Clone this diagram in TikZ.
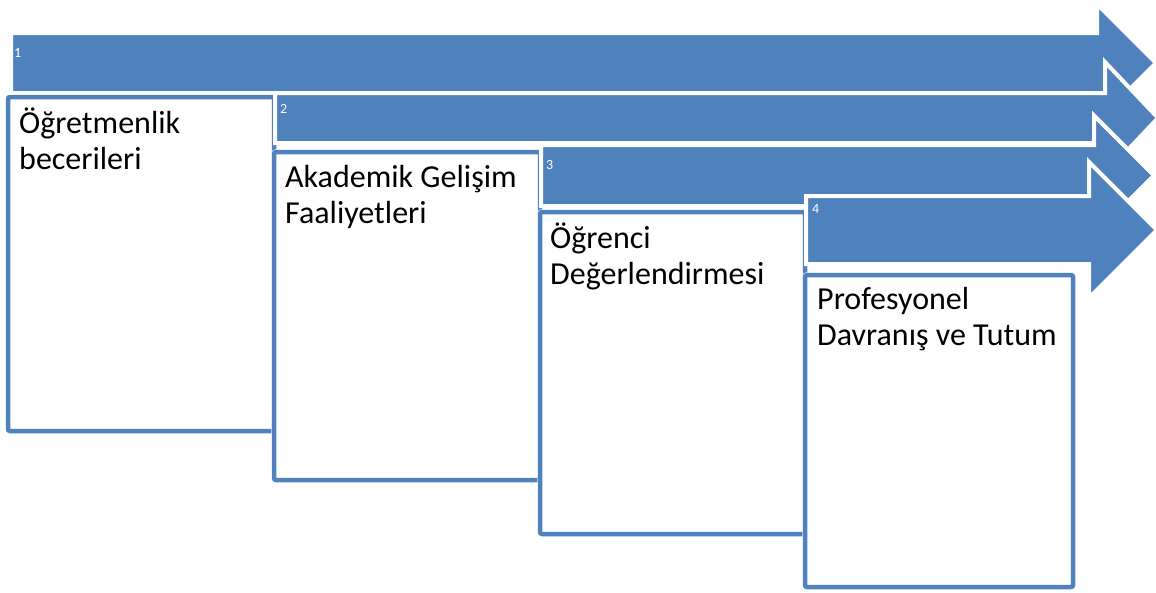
\documentclass[tikz,border=0pt]{standalone}
\usepackage{fontspec}
\setmainfont{Carlito}
\definecolor{accent}{HTML}{4F81BD}
\begin{document}
\begin{tikzpicture}[x=1pt,y=-1pt,
  arrowshape/.style={fill=accent,draw=white,line width=4pt,line join=miter},
  boxshape/.style={draw=accent,line width=4.5pt,fill=white,rounded corners=2pt},
  boxhalo/.style={draw=white,line width=5.5pt,rounded corners=2pt},
  numlabel/.style={text=white,font=\fontsize{14}{16}\selectfont,anchor=base west,inner sep=0pt},
  boxlabel/.style={font=\fontsize{32}{36.5}\selectfont,anchor=base west,inner sep=0pt,align=left}]
\useasboundingbox (0,0) rectangle (1156,592);
% arrow 1 and box 1
\draw[arrowshape] (11,33) -- (1097,33) -- (1097,4) -- (1156,63) -- (1097,122) -- (1097,93) -- (11,93) -- cycle;
\node[numlabel] (n1) at (14,57) {1};
\draw[boxhalo] (8,97) rectangle (274,431);
\draw[boxshape] (8,97) rectangle (274,431);
\node[boxlabel] (t1) at (19,169.5) {Öğretmenlik\\becerileri};
% arrow 2 and box 2
\draw[arrowshape] (275,93) -- (1105,93) -- (1105,62) -- (1158,118) -- (1105,174) -- (1105,143) -- (275,143) -- cycle;
\node[numlabel] (n2) at (280,113) {2};
\draw[boxhalo] (274,152) rectangle (540,480);
\draw[boxshape] (274,152) rectangle (540,480);
\node[boxlabel] (t2) at (285,223.5) {Akademik Gelişim\\Faaliyetleri};
% arrow 3 and box 3
\draw[arrowshape] (541,145) -- (1094,145) -- (1094,115.5) -- (1154,175.5) -- (1094,235.5) -- (1094,206) -- (541,206) -- cycle;
\node[numlabel] (n3) at (546,169) {3};
\draw[boxhalo] (540,212) rectangle (805,534);
\draw[boxshape] (540,212) rectangle (805,534);
\node[boxlabel] (t3) at (550,284.5) {Öğrenci\\Değerlendirmesi};
% arrow 4 and box 4
\draw[arrowshape] (806,196) -- (1089,196) -- (1089,162) -- (1157,230) -- (1089,298) -- (1089,264) -- (806,264) -- cycle;
\node[numlabel] (n4) at (812,213) {4};
\draw[boxhalo] (805,275) rectangle (1073,587);
\draw[boxshape] (805,275) rectangle (1073,587);
\node[boxlabel] (t4) at (817,345.5) {Profesyonel\\Davranış ve Tutum};
\end{tikzpicture}
\end{document}
